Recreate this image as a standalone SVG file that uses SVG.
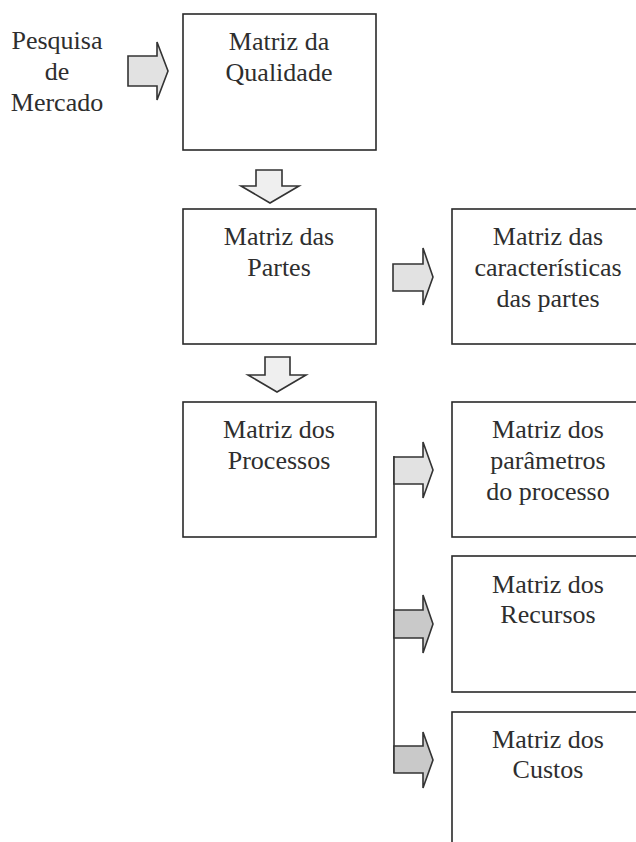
<svg xmlns="http://www.w3.org/2000/svg" width="636" height="842" viewBox="0 0 636 842">
<style>
.box{fill:#fff;stroke:#2a2a2a;stroke-width:1.6}
.t{font-family:"Liberation Serif","Times New Roman",serif;font-size:26px;fill:#2e2e2e;text-anchor:middle}
.a1{fill:#e2e2e2;stroke:#333;stroke-width:1.6;stroke-linejoin:miter}
.a0{fill:#efefef;stroke:#333;stroke-width:1.6}
.a2{fill:#c9c9c9;stroke:#333;stroke-width:1.6}
</style>
<rect width="636" height="842" fill="#fff"/>
<g id="pesquisa">
<text class="t" x="57" y="49">Pesquisa</text>
<text class="t" x="57" y="80">de</text>
<text class="t" x="57" y="111">Mercado</text>
</g>
<g id="qualidade">
<rect class="box" x="183" y="14" width="193" height="136"/>
<text class="t" x="279" y="50">Matriz da</text>
<text class="t" x="279" y="81">Qualidade</text>
</g>
<g id="partes">
<rect class="box" x="183" y="209" width="193" height="135"/>
<text class="t" x="279" y="245">Matriz das</text>
<text class="t" x="279" y="276">Partes</text>
</g>
<g id="caracteristicas">
<rect class="box" x="452" y="209" width="193" height="135"/>
<text class="t" x="548" y="245">Matriz das</text>
<text class="t" x="548" y="276">características</text>
<text class="t" x="548" y="307">das partes</text>
</g>
<g id="processos">
<rect class="box" x="183" y="402" width="193" height="135"/>
<text class="t" x="279" y="438">Matriz dos</text>
<text class="t" x="279" y="469">Processos</text>
</g>
<g id="parametros">
<rect class="box" x="452" y="402" width="193" height="135"/>
<text class="t" x="548" y="438">Matriz dos</text>
<text class="t" x="548" y="469">parâmetros</text>
<text class="t" x="548" y="500">do processo</text>
</g>
<g id="recursos">
<rect class="box" x="452" y="556" width="193" height="136"/>
<text class="t" x="548" y="593">Matriz dos</text>
<text class="t" x="548" y="623">Recursos</text>
</g>
<g id="custos">
<rect class="box" x="452" y="712" width="193" height="150"/>
<text class="t" x="548" y="748">Matriz dos</text>
<text class="t" x="548" y="778">Custos</text>
</g>
<g id="connectors">
<polygon class="a1" points="128,56 157,56 157,42 168,71 157,100 157,86 128,86"/>
<polygon class="a0" points="256,170 282,170 282,186 299,186 270,203 241,186 256,186"/>
<polygon class="a1" points="393,264 423,264 423,248 433,277 423,305 423,291 393,291"/>
<polygon class="a0" points="265,357 290,357 290,375 306,375 277,392 248,375 265,375"/>
<line x1="394" y1="456" x2="394" y2="773" stroke="#333" stroke-width="1.6"/>
<polygon class="a1" points="394,457 423,457 423,442 433,470 423,498 423,484 394,484"/>
<polygon class="a2" points="394,610 423,610 423,595 433,624 423,653 423,638 394,638"/>
<polygon class="a2" points="394,746 423,746 423,732 433,760 423,788 423,773 394,773"/>
</g>
</svg>
